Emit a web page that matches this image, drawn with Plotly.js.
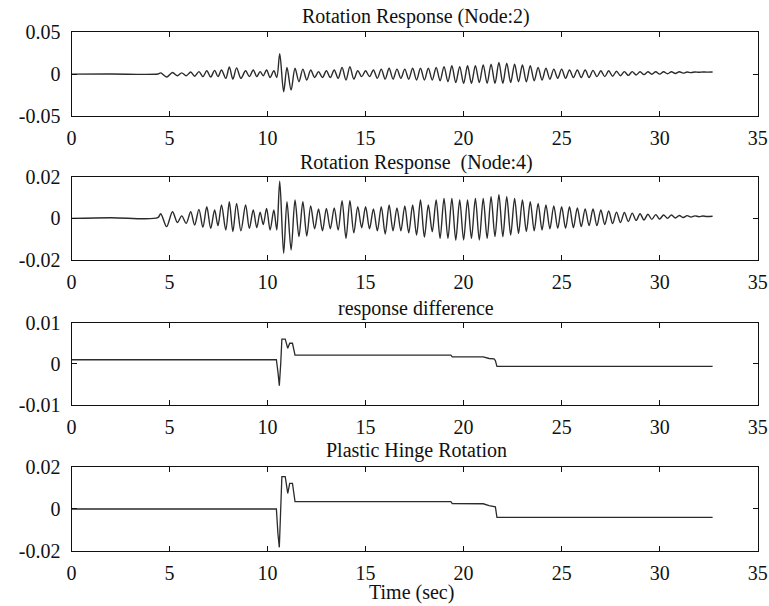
<!DOCTYPE html>
<html>
<head>
<meta charset="utf-8">
<script src="https://cdn.plot.ly/plotly-3.0.1.min.js"></script>
<style>html,body{margin:0;padding:0;background:#fff;}#chart{width:769px;height:606px;}</style>
</head>
<body>
<div id="chart"></div>
<script>
// ---- Data ----
const panelTitles = ["Rotation Response (Node:2)", "Rotation Response  (Node:4)", "response difference", "Plastic Hinge Rotation"];
const xTickVals = [0, 5, 10, 15, 20, 25, 30, 35];
const xTickText = ["0", "5", "10", "15", "20", "25", "30", "35"];
const yTickVals1 = [-0.05, 0, 0.05];
const yTickText1 = ["-0.05", "0", "0.05"];
const yTickVals2 = [-0.02, 0, 0.02];
const yTickText2 = ["-0.02", "0", "0.02"];
const yTickVals3 = [-0.01, 0, 0.01];
const yTickText3 = ["-0.01", "0", "0.01"];
const yTickVals4 = [-0.02, 0, 0.02];
const yTickText4 = ["-0.02", "0", "0.02"];
const xLabel = "Time (sec)";

// time of successive peaks / troughs of the rotation responses (s)
const tOsc = [0, 2.0, 4.4, 4.55, 4.85, 5.15, 5.40, 5.62, 5.85, 6.08, 6.28, 6.50, 6.70, 6.90, 7.10, 7.30, 7.47, 7.65, 7.87, 8.05, 8.23, 8.42, 8.64, 8.88, 9.07, 9.27, 9.45, 9.62, 9.78, 9.95, 10.13, 10.32, 10.47, 10.62, 10.82, 10.99, 11.20, 11.40, 11.60, 11.80, 12.00, 12.20, 12.40, 12.60, 12.80, 13.00, 13.20, 13.40, 13.60, 13.80, 14.00, 14.20, 14.40, 14.60, 14.80, 15.00, 15.20, 15.40, 15.60, 15.80, 16.00, 16.20, 16.40, 16.60, 16.80, 17.00, 17.20, 17.40, 17.60, 17.80, 18.00, 18.20, 18.40, 18.60, 18.80, 19.00, 19.20, 19.40, 19.60, 19.80, 20.00, 20.20, 20.40, 20.60, 20.80, 21.00, 21.20, 21.40, 21.60, 21.80, 22.00, 22.20, 22.40, 22.60, 22.80, 23.00, 23.20, 23.40, 23.60, 23.80, 24.00, 24.20, 24.40, 24.60, 24.80, 25.00, 25.20, 25.40, 25.60, 25.80, 26.00, 26.20, 26.40, 26.60, 26.80, 27.00, 27.20, 27.40, 27.60, 27.80, 28.00, 28.20, 28.40, 28.60, 28.80, 29.00, 29.20, 29.40, 29.60, 29.80, 30.00, 30.20, 30.40, 30.60, 30.80, 31.00, 31.20, 31.40, 31.60, 31.80, 32.00, 32.20, 32.40, 32.70];
// Node 2 rotation
const rotNode2 = [0, 0.0002, 0.0002, 0.0015, -0.0035, 0.002, -0.002, 0.0015, -0.002, 0.0025, -0.0025, 0.003, -0.003, 0.004, -0.0035, 0.0045, -0.003, 0.005, -0.005, 0.0085, -0.006, 0.0075, -0.005, 0.004, -0.003, 0.005, -0.003, 0.003, -0.002, 0.005, -0.004, 0.004, -0.004, 0.0245, -0.021, 0.008, -0.019, 0.007, -0.009, 0.006, -0.007, 0.005, -0.004, 0.003, -0.004, 0.004, -0.004, 0.005, -0.005, 0.008, -0.007, 0.009, -0.006, 0.004, -0.003, 0.004, -0.003, 0.005, -0.005, 0.006, -0.006, 0.007, -0.006, 0.006, -0.005, 0.006, -0.006, 0.007, -0.007, 0.007, -0.007, 0.007, -0.007, 0.008, -0.008, 0.009, -0.009, 0.010, -0.010, 0.009, -0.011, 0.010, -0.011, 0.010, -0.010, 0.011, -0.011, 0.012, -0.011, 0.014, -0.011, 0.013, -0.010, 0.012, -0.009, 0.011, -0.009, 0.010, -0.008, 0.008, -0.007, 0.007, -0.006, 0.006, -0.005, 0.006, -0.005, 0.005, -0.004, 0.005, -0.004, 0.005, -0.004, 0.0045, -0.003, 0.004, -0.003, 0.004, -0.0025, 0.0035, -0.002, 0.003, -0.0015, 0.003, -0.001, 0.0028, -0.0005, 0.0028, -0.0002, 0.0028, 0.0, 0.0028, 0.0005, 0.0028, 0.0008, 0.0028, 0.0012, 0.0026, 0.0018, 0.0026, 0.0022, 0.0026, 0.0024, 0.0025];
// Node 4 rotation
const rotNode4 = [0, 0.0003, 0.0003, 0.0022, -0.004, 0.0032, -0.002, 0.0012, -0.0024, 0.0032, -0.0032, 0.0043, -0.0043, 0.0056, -0.0048, 0.004, -0.0035, 0.0064, -0.0056, 0.008, -0.0064, 0.0072, -0.006, 0.0064, -0.0048, 0.004, -0.0045, 0.003, -0.003, 0.0048, -0.0056, 0.004, -0.0056, 0.0178, -0.0168, 0.008, -0.0152, 0.0088, -0.0088, 0.008, -0.0085, 0.006, -0.005, 0.0045, -0.006, 0.0048, -0.005, 0.005, -0.0056, 0.0085, -0.0096, 0.0085, -0.007, 0.0056, -0.0045, 0.0056, -0.005, 0.0045, -0.006, 0.0056, -0.0075, 0.0064, -0.006, 0.005, -0.006, 0.006, -0.007, 0.0064, -0.008, 0.0088, -0.009, 0.0064, -0.0064, 0.0088, -0.0096, 0.0096, -0.0096, 0.0096, -0.0104, 0.0088, -0.0104, 0.0088, -0.0096, 0.0096, -0.0104, 0.0096, -0.0096, 0.0104, -0.0088, 0.0114, -0.0088, 0.0104, -0.008, 0.0096, -0.0072, 0.0088, -0.0064, 0.008, -0.006, 0.0072, -0.0056, 0.0064, -0.005, 0.006, -0.0048, 0.0056, -0.0048, 0.0056, -0.0045, 0.005, -0.004, 0.0045, -0.0035, 0.0045, -0.0035, 0.004, -0.003, 0.0035, -0.0025, 0.003, -0.002, 0.0028, -0.0015, 0.0025, -0.001, 0.0022, -0.0008, 0.002, -0.0005, 0.0018, -0.0003, 0.0016, 0.0, 0.0016, 0.0002, 0.0014, 0.0004, 0.0013, 0.0006, 0.0012, 0.0008, 0.0011, 0.0009, 0.001];

// time of changes in the difference / plastic hinge signals (s)
const tStep = [0, 10.45, 10.53, 10.60, 10.67, 10.73, 10.90, 11.03, 11.13, 11.27, 11.40, 19.35, 19.42, 21.00, 21.30, 21.55, 21.62, 21.70, 32.70];
const respDiff = [0.001, 0.001, -0.002, -0.0053, 0.0, 0.006, 0.006, 0.0038, 0.005, 0.005, 0.0021, 0.0021, 0.0017, 0.0017, 0.0013, 0.0012, 0.0008, -0.0006, -0.0006];
const hingeRot = [0, 0, -0.012, -0.0184, 0.0, 0.0155, 0.0155, 0.0075, 0.0123, 0.0123, 0.0035, 0.0035, 0.0026, 0.0025, 0.0016, 0.0014, 0.0010, -0.004, -0.004];

// ---- Plot ----
const lineCol = '#2b2b2b';
const traces = [
  {x: tOsc, y: rotNode2, xaxis: 'x', yaxis: 'y', type: 'scatter', mode: 'lines', line: {color: lineCol, width: 1.4, shape: 'spline', smoothing: 0.9}},
  {x: tOsc, y: rotNode4, xaxis: 'x2', yaxis: 'y2', type: 'scatter', mode: 'lines', line: {color: lineCol, width: 1.4, shape: 'spline', smoothing: 0.9}},
  {x: tStep, y: respDiff, xaxis: 'x3', yaxis: 'y3', type: 'scatter', mode: 'lines', line: {color: lineCol, width: 1.3}},
  {x: tStep, y: hingeRot, xaxis: 'x4', yaxis: 'y4', type: 'scatter', mode: 'lines', line: {color: lineCol, width: 1.3}}
];

const font = {family: 'Liberation Serif, Times New Roman, serif', size: 20, color: '#111'};
const xDom = [0.0930, 0.9853];
const yDoms = [[0.8086, 0.9467], [0.5710, 0.7084], [0.3317, 0.4675], [0.0913, 0.2289]];
const yTicks = [[yTickVals1, yTickText1], [yTickVals2, yTickText2], [yTickVals3, yTickText3], [yTickVals4, yTickText4]];

function xAx(anchor) {
  return {domain: xDom, anchor: anchor, range: [0, 35], tickvals: xTickVals, ticktext: xTickText,
    ticks: 'inside', ticklen: 5, tickwidth: 1, tickcolor: '#111', mirror: 'ticks', showline: true,
    linecolor: '#111', linewidth: 1, showgrid: false, zeroline: false, tickfont: font, ticklabelstandoff: 4};
}
function yAx(i, anchor) {
  const r = yTicks[i][0];
  return {domain: yDoms[i], anchor: anchor, range: [r[0], r[2]], tickvals: r, ticktext: yTicks[i][1],
    ticks: 'inside', ticklen: 5, tickwidth: 1, tickcolor: '#111', mirror: 'ticks', showline: true,
    linecolor: '#111', linewidth: 1, showgrid: false, zeroline: false, tickfont: font, ticklabelstandoff: 6};
}

const titleY = [0.9724, 0.7315, 0.4917, 0.2558];
const annotations = panelTitles.map((t, i) => ({text: t, xref: 'paper', yref: 'paper', x: 0.541, y: titleY[i],
  xanchor: 'center', yanchor: 'middle', showarrow: false, font: font}));
annotations.push({text: xLabel, xref: 'paper', yref: 'paper', x: 0.5345, y: 0.0215, xanchor: 'center', yanchor: 'middle', showarrow: false, font: font});

const layout = {
  width: 769, height: 606, margin: {l: 0, r: 0, t: 0, b: 0},
  paper_bgcolor: '#fff', plot_bgcolor: '#fff', showlegend: false, font: font,
  xaxis: xAx('y'), yaxis: yAx(0, 'x'),
  xaxis2: xAx('y2'), yaxis2: yAx(1, 'x2'),
  xaxis3: xAx('y3'), yaxis3: yAx(2, 'x3'),
  xaxis4: xAx('y4'), yaxis4: yAx(3, 'x4'),
  annotations: annotations
};

Plotly.newPlot('chart', traces, layout, {staticPlot: true, displayModeBar: false});
</script>
</body>
</html>
